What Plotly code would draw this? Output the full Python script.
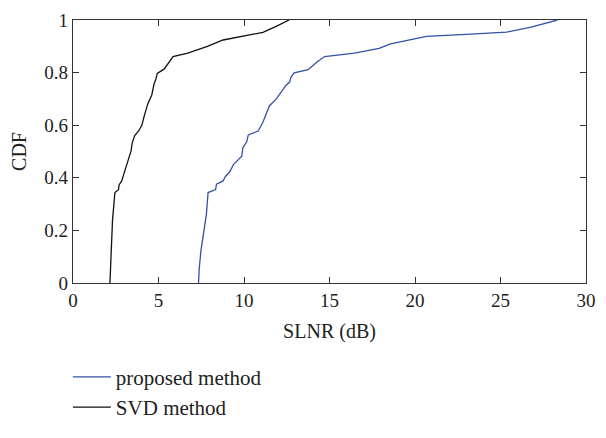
import plotly.graph_objects as go

# SVD method (black) CDF samples
svd_x = [2.16, 2.31, 2.45, 2.66, 2.70, 2.85, 2.98, 3.12, 3.27, 3.40, 3.46, 3.61, 3.84,
         4.03, 4.19, 4.38, 4.61, 4.74, 4.84, 4.93, 5.34, 5.85, 6.71, 7.86, 8.78,
         11.11, 11.88, 12.64]
svd_y = [0.0, 0.238, 0.344, 0.355, 0.374, 0.388, 0.416, 0.445, 0.474, 0.503, 0.532,
         0.561, 0.578, 0.601, 0.641, 0.682, 0.716, 0.757, 0.774, 0.797, 0.814, 0.861,
         0.874, 0.900, 0.924, 0.953, 0.976, 1.0]

# Proposed method (blue) CDF samples
prop_x = [7.34, 7.38, 7.48, 7.61, 7.73, 7.80, 7.90, 8.34, 8.39, 8.78, 8.91, 9.16, 9.39,
          9.87, 9.93, 10.16, 10.25, 10.83, 11.11, 11.49, 11.88, 12.07, 12.45, 12.68,
          12.74, 12.93, 13.75, 14.27, 14.71, 16.47, 17.90, 18.57, 19.72, 20.67, 22.97,
          25.36, 26.79, 28.33]
prop_y = [0.0, 0.053, 0.122, 0.180, 0.238, 0.261, 0.344, 0.355, 0.376, 0.388, 0.405,
          0.422, 0.451, 0.482, 0.514, 0.537, 0.563, 0.578, 0.612, 0.674, 0.699, 0.718,
          0.751, 0.765, 0.782, 0.799, 0.811, 0.840, 0.861, 0.874, 0.892, 0.909, 0.926,
          0.938, 0.945, 0.954, 0.973, 1.0]

x_ticks = [0, 5, 10, 15, 20, 25, 30]
y_ticks = [0, 0.2, 0.4, 0.6, 0.8, 1]

FONT = "Liberation Serif, Times New Roman, serif"

fig = go.Figure()
fig.add_trace(go.Scatter(x=prop_x, y=prop_y, mode="lines", name="proposed method",
                         line=dict(color="#3450a8", width=1.3)))
fig.add_trace(go.Scatter(x=svd_x, y=svd_y, mode="lines", name="SVD method",
                         line=dict(color="#111111", width=1.3)))

axis_common = dict(showgrid=False, zeroline=False, showline=True, linecolor="#333333",
                   linewidth=1.3, mirror="allticks", ticks="inside", ticklen=6,
                   tickcolor="#333333", tickwidth=1.3,
                   tickfont=dict(family=FONT, size=19, color="#222222"))

fig.update_xaxes(range=[0, 30], tickvals=x_ticks,
                 title=dict(text="SLNR (dB)", font=dict(family=FONT, size=20, color="#222222"),
                            standoff=14),
                 **axis_common)
fig.update_yaxes(range=[0, 1], tickvals=y_ticks,
                 title=dict(text="CDF", font=dict(family=FONT, size=20, color="#222222"),
                            standoff=12),
                 **axis_common)

fig.update_layout(
    width=606, height=438,
    font=dict(family=FONT, color="#222222"),
    margin=dict(l=73, r=10, t=13, b=136),
    paper_bgcolor="white", plot_bgcolor="white",
    showlegend=True,
    legend=dict(x=-0.01, xanchor="left", y=-0.28, yanchor="top",
                font=dict(family=FONT, size=21, color="#222222"),
                itemwidth=38,
                bgcolor="rgba(0,0,0,0)", borderwidth=0, tracegroupgap=0),
)

fig.write_html("out.html")
